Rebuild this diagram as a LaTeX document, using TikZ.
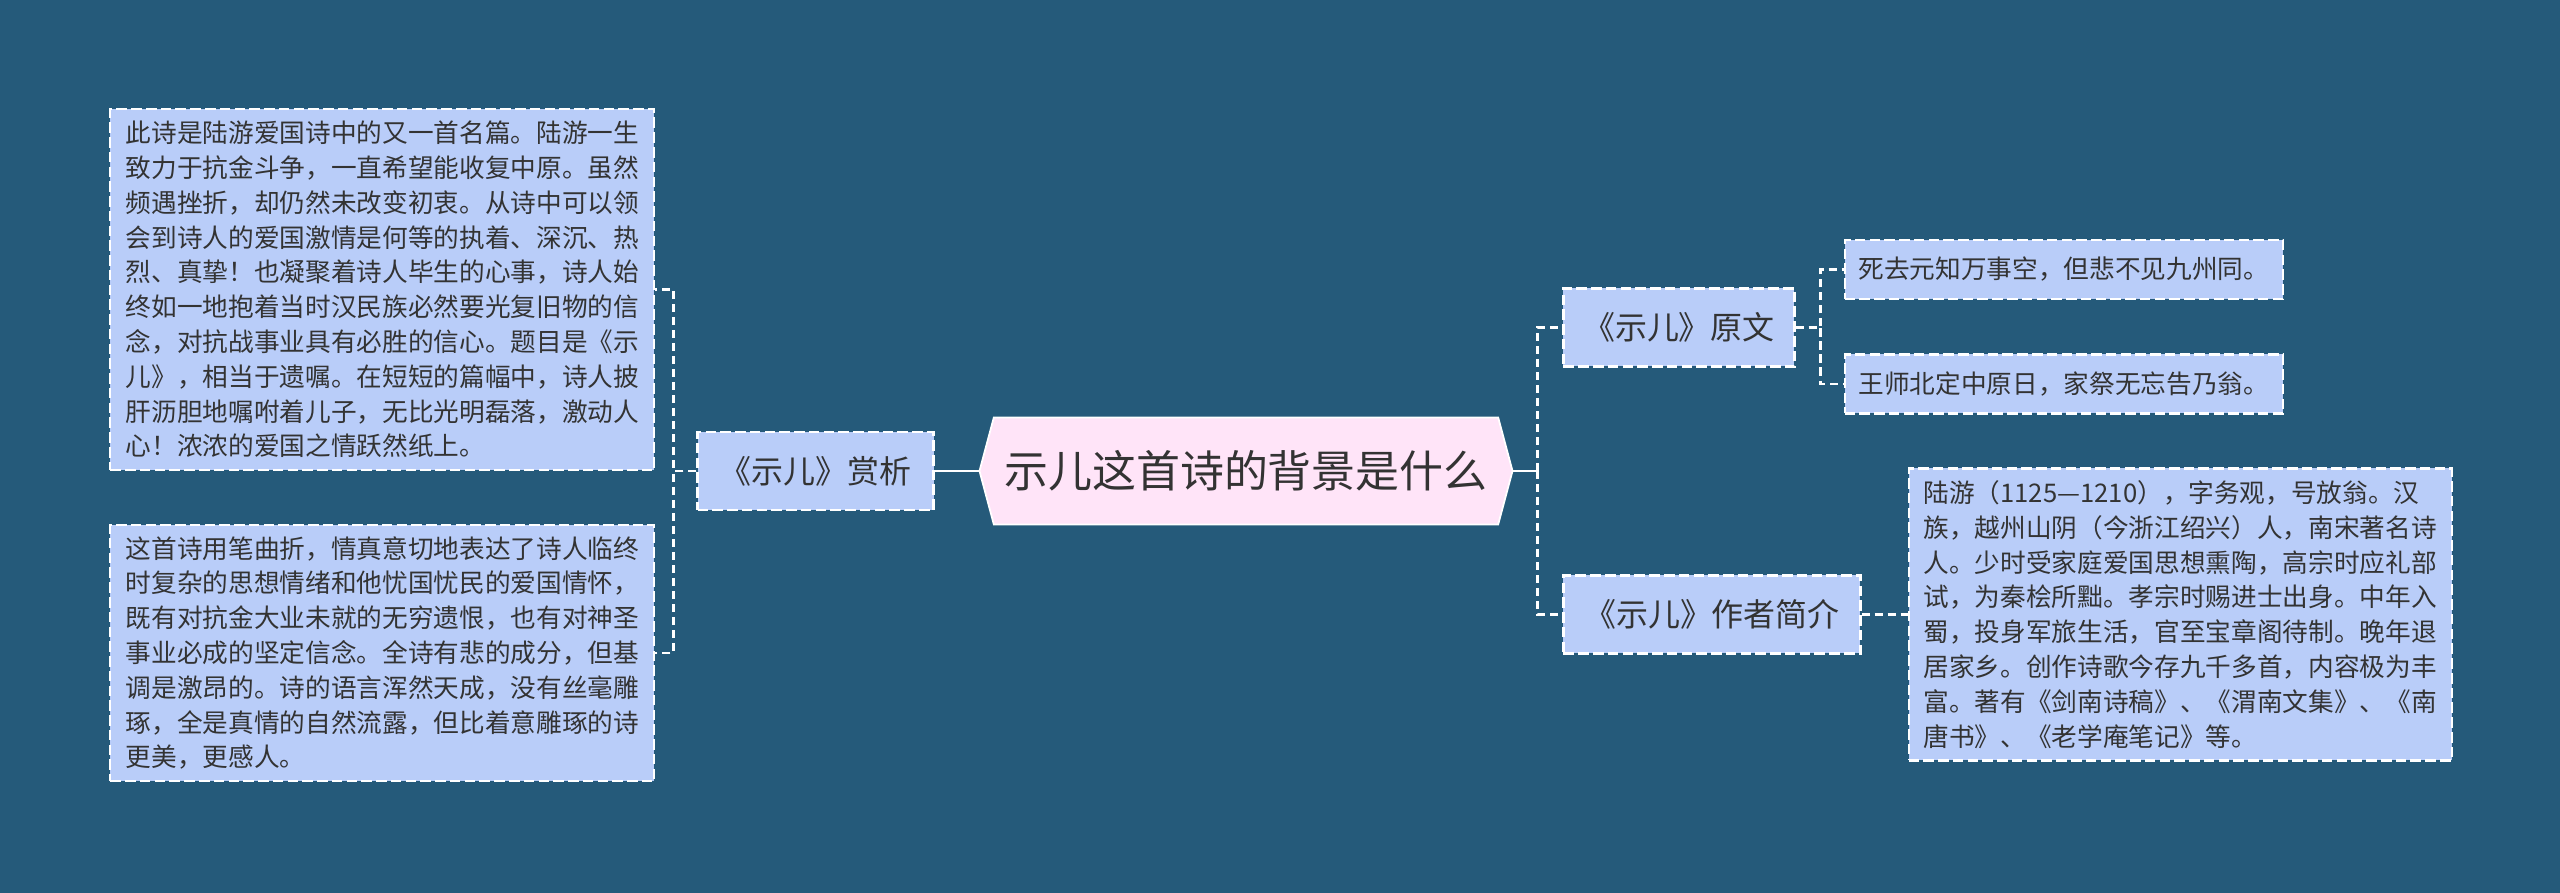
\documentclass[tikz,border=0pt]{standalone}
\usepackage{fontspec}
\setmainfont{Noto Sans CJK SC}
\usepackage{tikz}
\usetikzlibrary{positioning,shapes.symbols}
\definecolor{bgblue}{HTML}{255A7A}
\definecolor{boxblue}{HTML}{B9CDF9}
\definecolor{titlepink}{HTML}{FFE4F8}
\definecolor{inkgray}{HTML}{333333}

\begin{document}
\begin{tikzpicture}[
    box/.style={draw=white, line width=0.6pt, dash pattern=on 3pt off 1.2pt, fill=boxblue, text=inkgray},
    midbox/.style={box, font=\fontsize{9.1pt}{11pt}\selectfont, minimum height=0.78cm},
    leafbox/.style={box, font=\fontsize{7.3pt}{9.9pt}\selectfont, align=left, inner xsep=0.14cm},
    titlebox/.style={signal, signal to=west and east, signal pointer angle=150, draw=white, line width=0.5pt, fill=titlepink, text=inkgray, font=\fontsize{12.5pt}{14pt}\selectfont, inner xsep=3pt, minimum width=5.24cm, minimum height=1.07cm},
    trunk/.style={draw=white, line width=0.8pt},
    link/.style={draw=white, line width=0.7pt, dash pattern=on 2.3pt off 1.4pt}
]
\fill[bgblue] (0,0) rectangle (25.6,8.93);
\node[titlebox] (title) at (12.46,4.22) {示儿这首诗的背景是什么};
\node[midbox, minimum width=2.36cm, left=0.44cm of title] (shangxi) {《示儿》赏析};
\node[leafbox, minimum width=5.44cm, minimum height=3.57cm, left=0.41cm of shangxi.west, yshift=1.815cm] (poem1) {
此诗是陆游爱国诗中的又一首名篇。陆游一生\\
致力于抗金斗争，一直希望能收复中原。虽然\\
频遇挫折，却仍然未改变初衷。从诗中可以领\\
会到诗人的爱国激情是何等的执着、深沉、热\\
烈、真挚！也凝聚着诗人毕生的心事，诗人始\\
终如一地抱着当时汉民族必然要光复旧物的信\\
念，对抗战事业具有必胜的信心。题目是《示\\
儿》，相当于遗嘱。在短短的篇幅中，诗人披\\
肝沥胆地嘱咐着儿子，无比光明磊落，激动人\\
心！浓浓的爱国之情跃然纸上。
};
\node[leafbox, minimum width=5.44cm, minimum height=2.56cm, left=0.41cm of shangxi.west, yshift=-1.82cm] (poem2) {
这首诗用笔曲折，情真意切地表达了诗人临终\\
时复杂的思想情绪和他忧国忧民的爱国情怀，\\
既有对抗金大业未就的无穷遗恨，也有对神圣\\
事业必成的坚定信念。全诗有悲的成分，但基\\
调是激昂的。诗的语言浑然天成，没有丝毫雕\\
琢，全是真情的自然流露，但比着意雕琢的诗\\
更美，更感人。
};
\node[midbox, minimum width=2.31cm, right=0.49cm of title, yshift=1.435cm] (yuanwen) {《示儿》原文};
\node[midbox, minimum width=2.97cm, right=0.49cm of title, yshift=-1.435cm] (zuozhe) {《示儿》作者简介};
\node[leafbox, minimum width=4.35cm, minimum height=0.59cm, right=0.48cm of yuanwen.east, yshift=0.58cm] (line1) {死去元知万事空，但悲不见九州同。};
\node[leafbox, minimum width=4.35cm, minimum height=0.59cm, right=0.48cm of yuanwen.east, yshift=-0.565cm] (line2) {王师北定中原日，家祭无忘告乃翁。};
\node[leafbox, minimum width=5.43cm, minimum height=2.92cm, right=0.46cm of zuozhe] (author) {
陆游（1125—1210），字务观，号放翁。汉\\
族，越州山阴（今浙江绍兴）人，南宋著名诗\\
人。少时受家庭爱国思想熏陶，高宗时应礼部\\
试，为秦桧所黜。孝宗时赐进士出身。中年入\\
蜀，投身军旅生活，官至宝章阁待制。晚年退\\
居家乡。创作诗歌今存九千多首，内容极为丰\\
富。著有《剑南诗稿》、《渭南文集》、《南\\
唐书》、《老学庵笔记》等。
};
\draw[trunk] (title.west) -- (shangxi.east);
\draw[link] (shangxi.west) -- ++(-0.23,0) |- (poem1.east);
\draw[link] (shangxi.west) -- ++(-0.23,0) |- (poem2.east);
\draw[trunk] (title.east) -- ++(0.24,0) coordinate (rfork);
\draw[link] (rfork) |- (yuanwen.west);
\draw[link] (rfork) |- (zuozhe.west);
\draw[link] (yuanwen.east) -- ++(0.25,0) |- (line1.west);
\draw[link] (yuanwen.east) -- ++(0.25,0) |- (line2.west);
\draw[link] (zuozhe.east) -- (author.west);
\end{tikzpicture}
\end{document}
